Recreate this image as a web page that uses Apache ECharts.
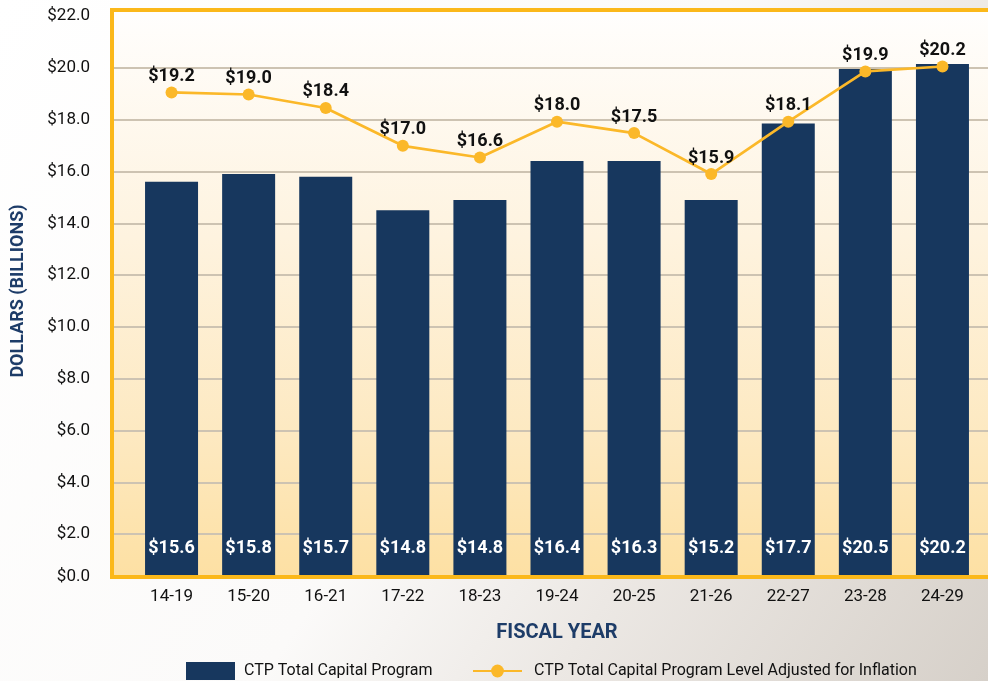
<!DOCTYPE html>
<html><head><meta charset="utf-8">
<script src="https://cdn.jsdelivr.net/npm/echarts@6/dist/echarts.min.js"></script>
<style>html,body{margin:0;padding:0;background:#fff}#c{width:988px;height:681px}</style>
</head><body><div id="c"></div>
<script>
const categories = ['14-19','15-20','16-21','17-22','18-23','19-24','20-25','21-26','22-27','23-28','24-29'];
const programValues = [15.6, 15.9, 15.8, 14.5, 14.9, 16.4, 16.4, 14.9, 17.85, 19.95, 20.15];
const programLabels = ['$15.6','$15.8','$15.7','$14.8','$14.8','$16.4','$16.3','$15.2','$17.7','$20.5','$20.2'];
const inflationValues = [19.05, 18.97, 18.45, 16.99, 16.54, 17.92, 17.48, 15.9, 17.92, 19.86, 20.05];
const inflationLabels = ['$19.2','$19.0','$18.4','$17.0','$16.6','$18.0','$17.5','$15.9','$18.1','$19.9','$20.2'];
const yMin = 0, yMax = 22, yStep = 2;

const FONT = "Roboto,'DejaVu Sans Condensed',sans-serif";
const NAVY = '#17375e';
const GOLD = '#fbb81a';
const LINE = '#fbb829';

const bgFill = {type:'linear', x:0, y:0, x2:988, y2:681, global:true,
  colorStops:[{offset:0,color:'#ffffff'},{offset:0.5,color:'#fbfaf9'},{offset:0.7,color:'#ece8e4'},{offset:1,color:'#d6d0c9'}]};

const chart = echarts.init(document.getElementById('c'), null, {renderer:'canvas'});
chart.setOption({
  animation:false,
  backgroundColor:'transparent',
  textStyle:{fontFamily:FONT},
  grid:[
    {left:133, right:7, top:16, height:570, containLabel:false},
    {left:112, right:0, top:16, height:570, containLabel:false}
  ],
  xAxis:[
    {type:'category', gridIndex:0, data:categories, boundaryGap:true,
     axisLine:{show:false}, axisTick:{show:false},
     axisLabel:{margin:2, color:'#111', fontSize:17, fontFamily:FONT}},
    {type:'value', gridIndex:1, show:false, min:0, max:1}
  ],
  yAxis:[
    {type:'value', gridIndex:0, min:yMin, max:yMax, interval:yStep,
     axisLine:{show:false}, axisTick:{show:false}, splitLine:{show:false},
     axisLabel:{margin:43, color:'#111', fontSize:17, fontFamily:FONT,
       formatter:function(v){ return v === 0 ? '{z|$0.0}' : '$' + v.toFixed(1); },
       rich:{z:{fontSize:17, fontFamily:FONT, color:'#111', padding:[0,0,18,0]}}}},
    {type:'value', gridIndex:1, min:yMin, max:yMax, interval:yStep,
     axisLine:{show:false}, axisTick:{show:false}, axisLabel:{show:false},
     splitLine:{show:true, showMinLine:false, showMaxLine:false, lineStyle:{color:'#cdc3b2', width:2}}}
  ],
  legend:[
    {data:['CTP Total Capital Program'], icon:'rect', left:181, top:657, itemWidth:49, itemHeight:18, itemGap:0,
     textStyle:{fontSize:16, color:'#111', fontFamily:FONT, padding:[0,0,0,4]}},
    {data:['CTP Total Capital Program Level Adjusted for Inflation'], left:467, top:658, itemWidth:49, itemHeight:16, itemGap:0,
     textStyle:{fontSize:16, color:'#111', fontFamily:FONT, padding:[0,0,0,7]}}
  ],
  series:[
    {name:'CTP Total Capital Program', type:'bar', xAxisIndex:0, yAxisIndex:0,
     data:programValues, barWidth:53, itemStyle:{color:NAVY}, z:2,
     label:{show:true, position:'insideBottom', distance:29, color:'#fff', fontSize:18, fontWeight:'bold', fontFamily:FONT,
       formatter:function(p){ return programLabels[p.dataIndex]; }}},
    {name:'CTP Total Capital Program Level Adjusted for Inflation', type:'line', xAxisIndex:0, yAxisIndex:0,
     data:inflationValues, symbol:'circle', symbolSize:12, z:5,
     lineStyle:{color:LINE, width:2.7}, itemStyle:{color:LINE},
     label:{show:true, position:'top', distance:1, color:'#111', fontSize:18, fontWeight:'bold', fontFamily:FONT,
       formatter:function(p){ return inflationLabels[p.dataIndex]; }}}
  ],
  graphic:[
    {type:'rect', z:-20, shape:{x:0, y:0, width:988, height:681}, style:{fill:bgFill}, silent:true},
    {type:'rect', z:-10, shape:{x:112, y:10, width:890, height:567}, silent:true,
     style:{fill:{type:'linear', x:0, y:0, x2:0, y2:1,
       colorStops:[{offset:0,color:'#fffefd'},{offset:0.4,color:'#fef3df'},{offset:0.75,color:'#fde9c1'},{offset:1,color:'#fde0a3'}]}}},
    {type:'rect', z:40, shape:{x:100, y:579, width:900, height:7}, style:{fill:bgFill}, silent:true},
    {type:'rect', z:50, shape:{x:112, y:10, width:900, height:567}, style:{fill:null, stroke:GOLD, lineWidth:4}, silent:true},
    {type:'text', z:50, x:18, y:291, rotation:Math.PI/2, silent:true,
     style:{text:'DOLLARS (BILLIONS)', fill:'#1d3c68', font:"bold 18px " + FONT, textAlign:'center', textVerticalAlign:'middle'}},
    {type:'text', z:50, x:557, y:633, silent:true,
     style:{text:'FISCAL YEAR', fill:'#1d3c68', font:"bold 20px " + FONT, textAlign:'center', textVerticalAlign:'middle'}}
  ]
});
</script>
</body></html>
